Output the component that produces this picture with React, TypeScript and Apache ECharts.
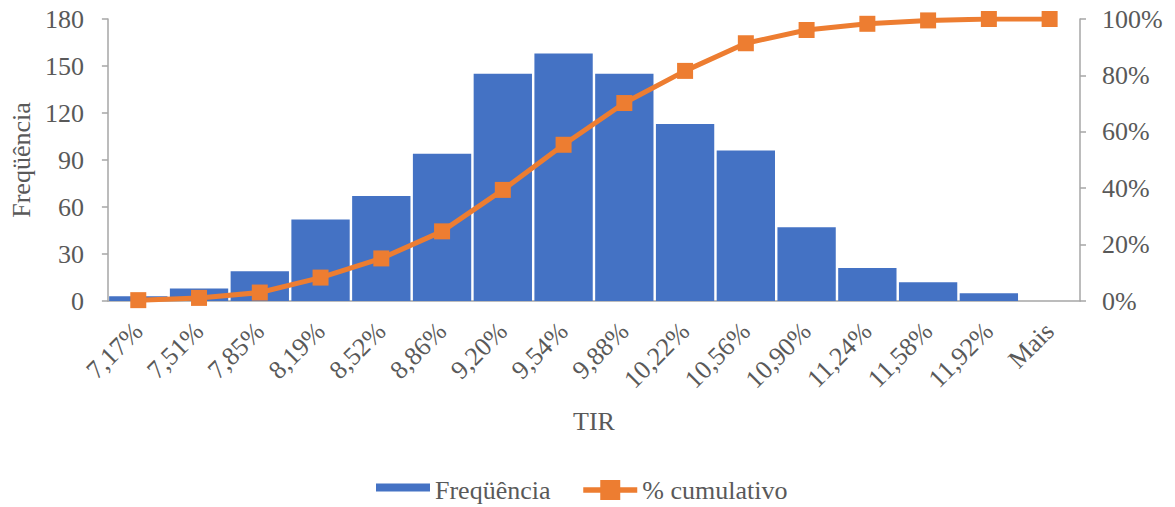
import React, { useEffect, useRef } from "react";
import * as echarts from "echarts";

const categories = [
  "7,17%", "7,51%", "7,85%", "8,19%", "8,52%", "8,86%", "9,20%", "9,54%",
  "9,88%", "10,22%", "10,56%", "10,90%", "11,24%", "11,58%", "11,92%", "Mais",
];
const frequencia = [3, 8, 19, 52, 67, 94, 145, 158, 145, 113, 96, 47, 21, 12, 5, 0];
const cumulativo = [0.3, 1.1, 3.0, 8.3, 15.1, 24.7, 39.4, 55.4, 70.2, 81.6, 91.4, 96.1, 98.3, 99.5, 100, 100];
const leftTicks = { min: 0, max: 180, interval: 30 };
const rightTicks = { min: 0, max: 100, interval: 20 };

const FONT = "Times New Roman, Liberation Serif, serif";
const TXT = "#595959";
const AXIS = "#A6A6A6";

const txt = (size: number) => ({
  fontFamily: FONT,
  fontSize: size,
  fontStyle: "normal",
  fontWeight: "normal",
  color: TXT,
});

export default function App() {
  const ref = useRef<HTMLDivElement>(null);
  useEffect(() => {
    if (!ref.current) return;
    const chart = echarts.init(ref.current, undefined, { renderer: "svg" });
    chart.setOption({
      animation: false,
      textStyle: txt(26),
      grid: { left: 107, right: 95, top: 19, bottom: 206, containLabel: false },
      legend: {
        top: 477,
        left: 376,
        padding: 0,
        itemWidth: 54,
        itemHeight: 25,
        itemGap: 30,
        textStyle: { ...txt(26), lineHeight: 26 },
        data: [
          { name: "Freqüência", icon: "path://M0,0M0,6h54v8h-54zM54,25" },
          { name: "% cumulativo", lineStyle: { width: 5.5 } },
        ],
      },
      xAxis: {
        type: "category",
        data: categories,
        name: "TIR",
        nameLocation: "middle",
        nameGap: 107,
        nameTextStyle: txt(26),
        axisLine: { lineStyle: { color: AXIS, width: 1.5 } },
        axisTick: { show: false },
        axisLabel: {
          rotate: 45,
          interval: 0,
          margin: 26,
          ...txt(26),
        },
      },
      yAxis: [
        {
          type: "value",
          min: leftTicks.min,
          max: leftTicks.max,
          interval: leftTicks.interval,
          name: "Freqüência",
          nameLocation: "middle",
          nameGap: 72,
          nameRotate: 90,
          nameTextStyle: txt(26),
          splitLine: { show: false },
          axisLine: { show: true, lineStyle: { color: AXIS, width: 1.5 } },
          axisTick: { show: true, length: 6, lineStyle: { color: AXIS, width: 1.5 } },
          axisLabel: { margin: 24, ...txt(26) },
        },
        {
          type: "value",
          min: rightTicks.min,
          max: rightTicks.max,
          interval: rightTicks.interval,
          position: "right",
          splitLine: { show: false },
          axisLine: { show: true, lineStyle: { color: AXIS, width: 1.5 } },
          axisTick: { show: true, length: 6, lineStyle: { color: AXIS, width: 1.5 } },
          axisLabel: {
            margin: 22,
            ...txt(26),
            formatter: "{value}%",
          },
        },
      ],
      series: [
        {
          name: "Freqüência",
          type: "bar",
          data: frequencia,
          barCategoryGap: "4%",
          itemStyle: { color: "#4472C4" },
        },
        {
          name: "% cumulativo",
          type: "line",
          yAxisIndex: 1,
          data: cumulativo,
          symbol: "rect",
          symbolSize: 16,
          lineStyle: { color: "#ED7D31", width: 5 },
          itemStyle: { color: "#ED7D31" },
          z: 5,
        },
      ],
    });
    return () => chart.dispose();
  }, []);
  return (
    <div
      ref={ref}
      style={{ position: "fixed", left: 0, top: 0, width: 1175, height: 507, background: "#fff" }}
    />
  );
}
